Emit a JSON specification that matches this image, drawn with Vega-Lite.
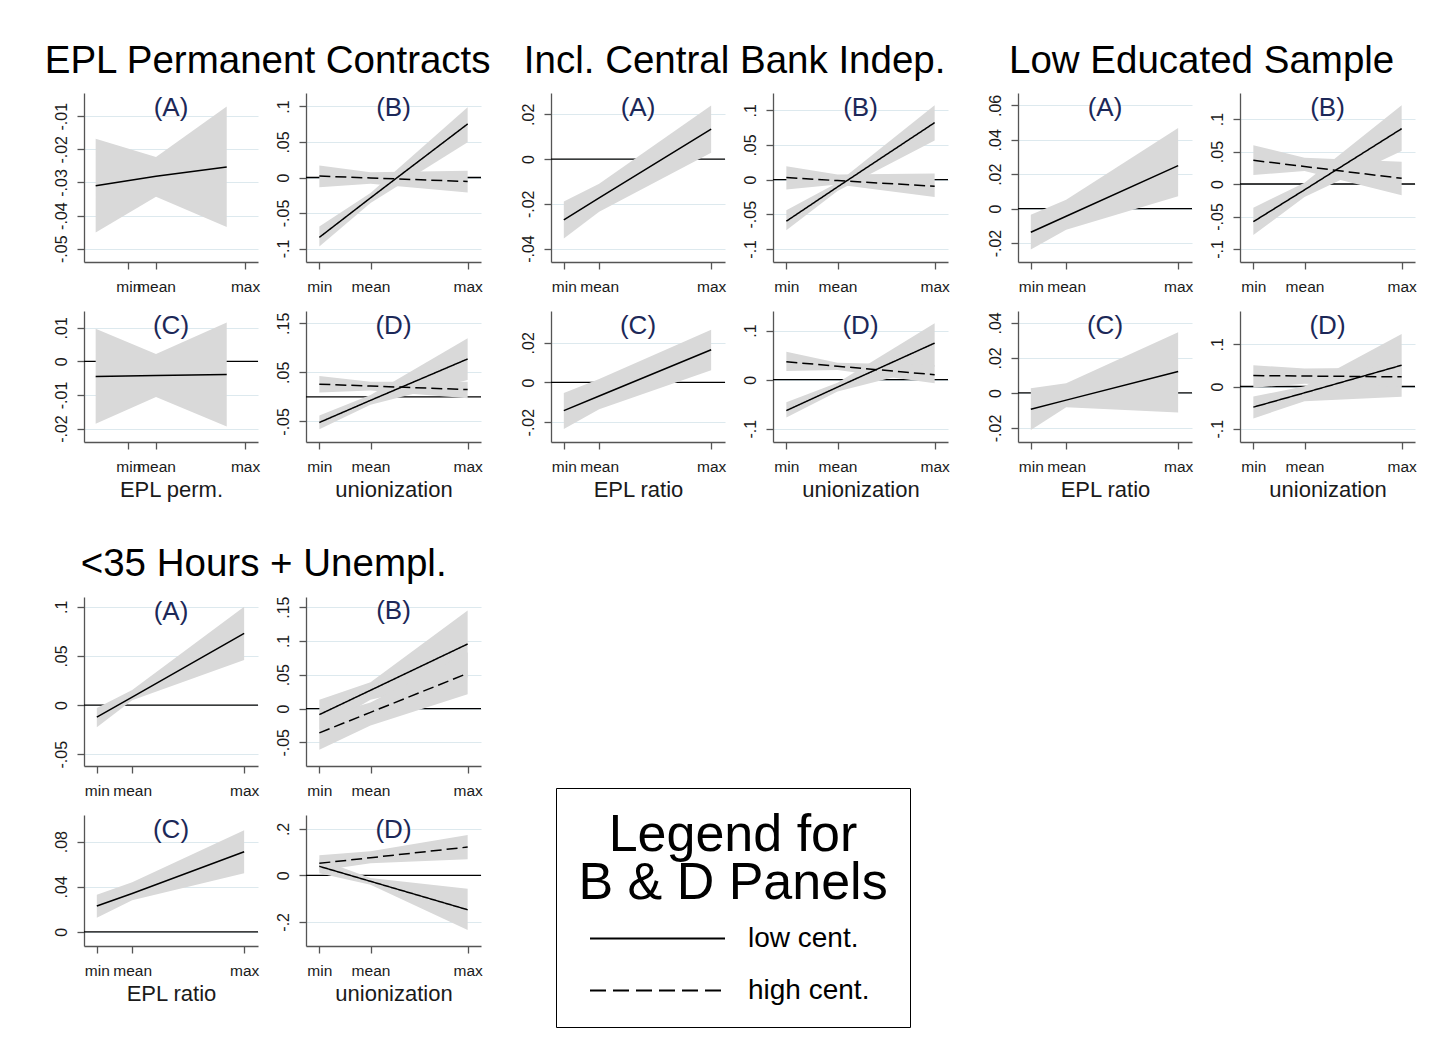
{
"$schema": "https://vega.github.io/schema/vega-lite/v6.json",
"background": "white",
"padding": {"left": 44, "top": 41, "right": 5, "bottom": 5},
"spacing": 43,
"resolve": {"scale": {"strokeDash": "independent"}, "legend": {"strokeDash": "independent"}},
"datasets": {
"est": [
{"p":"g1A","s":"low cent.","x":-0.28,"est":-0.031,"lo":-0.0451,"hi":-0.0168},
{"p":"g1A","s":"low cent.","x":0.237,"est":-0.0281,"lo":-0.0343,"hi":-0.0223},
{"p":"g1A","s":"low cent.","x":0.843,"est":-0.0253,"lo":-0.0434,"hi":-0.0071},
{"p":"g1B","s":"low cent.","x":0,"est":-0.0843,"lo":-0.097,"hi":-0.0689},
{"p":"g1B","s":"low cent.","x":0.345,"est":-0.0287,"lo":-0.036,"hi":-0.022},
{"p":"g1B","s":"low cent.","x":1,"est":0.0754,"lo":0.0497,"hi":0.0988},
{"p":"g1B","s":"high cent.","x":0,"est":0.002,"lo":-0.0136,"hi":0.0169},
{"p":"g1B","s":"high cent.","x":0.345,"est":-0.0006,"lo":-0.0089,"hi":0.0075},
{"p":"g1B","s":"high cent.","x":1,"est":-0.0056,"lo":-0.0211,"hi":0.0094},
{"p":"g1C","s":"low cent.","x":-0.28,"est":-0.0045,"lo":-0.0186,"hi":0.0097},
{"p":"g1C","s":"low cent.","x":0.237,"est":-0.0042,"lo":-0.0106,"hi":0.0022},
{"p":"g1C","s":"low cent.","x":0.843,"est":-0.0039,"lo":-0.0194,"hi":0.0116},
{"p":"g1D","s":"low cent.","x":0,"est":-0.0522,"lo":-0.0658,"hi":-0.038},
{"p":"g1D","s":"low cent.","x":0.345,"est":-0.0071,"lo":-0.016,"hi":0.004},
{"p":"g1D","s":"low cent.","x":1,"est":0.0773,"lo":0.0346,"hi":0.1193},
{"p":"g1D","s":"high cent.","x":0,"est":0.0258,"lo":0.0088,"hi":0.0427},
{"p":"g1D","s":"high cent.","x":0.345,"est":0.022,"lo":0.013,"hi":0.031},
{"p":"g1D","s":"high cent.","x":1,"est":0.0149,"lo":-0.0027,"hi":0.031},
{"p":"g2A","s":"low cent.","x":0,"est":-0.0272,"lo":-0.0355,"hi":-0.019},
{"p":"g2A","s":"low cent.","x":0.24,"est":-0.0174,"lo":-0.0236,"hi":-0.011},
{"p":"g2A","s":"low cent.","x":1,"est":0.0134,"lo":0.0028,"hi":0.0239},
{"p":"g2B","s":"low cent.","x":0,"est":-0.0601,"lo":-0.0731,"hi":-0.0442},
{"p":"g2B","s":"low cent.","x":0.345,"est":-0.0106,"lo":-0.0166,"hi":-0.0046},
{"p":"g2B","s":"low cent.","x":1,"est":0.0822,"lo":0.0563,"hi":0.1072},
{"p":"g2B","s":"high cent.","x":0,"est":0.0029,"lo":-0.0144,"hi":0.0192},
{"p":"g2B","s":"high cent.","x":0.345,"est":-0.0015,"lo":-0.007,"hi":0.0072},
{"p":"g2B","s":"high cent.","x":1,"est":-0.0096,"lo":-0.025,"hi":0.0087},
{"p":"g2C","s":"low cent.","x":0,"est":-0.0142,"lo":-0.0235,"hi":-0.0053},
{"p":"g2C","s":"low cent.","x":0.24,"est":-0.0068,"lo":-0.0135,"hi":0.0018},
{"p":"g2C","s":"low cent.","x":1,"est":0.0165,"lo":0.0062,"hi":0.0265},
{"p":"g2D","s":"low cent.","x":0,"est":-0.063,"lo":-0.0773,"hi":-0.0461},
{"p":"g2D","s":"low cent.","x":0.345,"est":-0.0151,"lo":-0.024,"hi":-0.006},
{"p":"g2D","s":"low cent.","x":1,"est":0.0746,"lo":0.0264,"hi":0.1152},
{"p":"g2D","s":"high cent.","x":0,"est":0.0366,"lo":0.0176,"hi":0.057},
{"p":"g2D","s":"high cent.","x":0.345,"est":0.0274,"lo":0.0197,"hi":0.0346},
{"p":"g2D","s":"high cent.","x":1,"est":0.0102,"lo":-0.0075,"hi":0.0298},
{"p":"g3A","s":"low cent.","x":0,"est":-0.0137,"lo":-0.0238,"hi":-0.0035},
{"p":"g3A","s":"low cent.","x":0.24,"est":-0.0044,"lo":-0.0122,"hi":0.0052},
{"p":"g3A","s":"low cent.","x":1,"est":0.025,"lo":0.0072,"hi":0.0469},
{"p":"g3B","s":"low cent.","x":0,"est":-0.058,"lo":-0.0785,"hi":-0.0364},
{"p":"g3B","s":"low cent.","x":0.345,"est":-0.009,"lo":-0.02,"hi":0.002},
{"p":"g3B","s":"low cent.","x":1,"est":0.0851,"lo":0.0508,"hi":0.121},
{"p":"g3B","s":"high cent.","x":0,"est":0.0364,"lo":0.0138,"hi":0.0595},
{"p":"g3B","s":"high cent.","x":0.345,"est":0.0269,"lo":0.02,"hi":0.0405},
{"p":"g3B","s":"high cent.","x":1,"est":0.0087,"lo":-0.0174,"hi":0.0344},
{"p":"g3C","s":"low cent.","x":0,"est":-0.0093,"lo":-0.0211,"hi":0.0027},
{"p":"g3C","s":"low cent.","x":0.24,"est":-0.0041,"lo":-0.0082,"hi":0.0055},
{"p":"g3C","s":"low cent.","x":1,"est":0.0122,"lo":-0.0112,"hi":0.0346},
{"p":"g3D","s":"low cent.","x":0,"est":-0.0489,"lo":-0.0757,"hi":-0.0237},
{"p":"g3D","s":"low cent.","x":0.345,"est":-0.0149,"lo":-0.0347,"hi":0.0008},
{"p":"g3D","s":"low cent.","x":1,"est":0.0505,"lo":-0.0244,"hi":0.1246},
{"p":"g3D","s":"high cent.","x":0,"est":0.026,"lo":-0.003,"hi":0.0505},
{"p":"g3D","s":"high cent.","x":0.345,"est":0.0249,"lo":0.0063,"hi":0.0426},
{"p":"g3D","s":"high cent.","x":1,"est":0.0229,"lo":0.0,"hi":0.045},
{"p":"g4A","s":"low cent.","x":0,"est":-0.0123,"lo":-0.0226,"hi":-0.003},
{"p":"g4A","s":"low cent.","x":0.24,"est":0.0081,"lo":0.005,"hi":0.0154},
{"p":"g4A","s":"low cent.","x":1,"est":0.0729,"lo":0.046,"hi":0.1},
{"p":"g4B","s":"low cent.","x":0,"est":-0.009,"lo":-0.031,"hi":0.013},
{"p":"g4B","s":"low cent.","x":0.345,"est":0.027,"lo":0.013,"hi":0.039},
{"p":"g4B","s":"low cent.","x":1,"est":0.0955,"lo":0.046,"hi":0.145},
{"p":"g4B","s":"high cent.","x":0,"est":-0.036,"lo":-0.061,"hi":-0.013},
{"p":"g4B","s":"high cent.","x":0.345,"est":-0.0056,"lo":-0.025,"hi":0.009},
{"p":"g4B","s":"high cent.","x":1,"est":0.052,"lo":0.021,"hi":0.083},
{"p":"g4C","s":"low cent.","x":0,"est":0.023,"lo":0.0125,"hi":0.033},
{"p":"g4C","s":"low cent.","x":0.24,"est":0.034,"lo":0.028,"hi":0.044},
{"p":"g4C","s":"low cent.","x":1,"est":0.071,"lo":0.052,"hi":0.09},
{"p":"g4D","s":"low cent.","x":0,"est":0.039,"lo":0.009,"hi":0.07},
{"p":"g4D","s":"low cent.","x":0.345,"est":-0.0255,"lo":-0.04,"hi":-0.011},
{"p":"g4D","s":"low cent.","x":1,"est":-0.148,"lo":-0.235,"hi":-0.057},
{"p":"g4D","s":"high cent.","x":0,"est":0.052,"lo":0.02,"hi":0.087},
{"p":"g4D","s":"high cent.","x":0.345,"est":0.076,"lo":0.052,"hi":0.104},
{"p":"g4D","s":"high cent.","x":1,"est":0.122,"lo":0.07,"hi":0.174}
]
},
"vconcat": [
{"hconcat": [
{"hconcat": [
 {"title": {"text": "EPL Permanent Contracts", "fontSize": 38.5, "color": "black", "anchor": "middle", "frame": "bounds", "baseline": "alphabetic", "offset": -18},
  "spacing": 16,
  "vconcat": [
   {"hconcat": [
    {"width": 174, "height": 169, "title": "(A)",
     "layer": [
      {"data": {"name": "est"}, "transform": [{"filter": "datum.p == 'g1A'"}],
       "mark": {"type": "area", "color": "#d9d9d9", "opacity": 1, "clip": true},
       "encoding": {
        "x": {"field": "x", "type": "quantitative", "title": null, "scale": {"domain": [-0.38, 1.111], "nice": false, "zero": false}, "axis": {"values": [0, 0.237, 1], "labelOverlap": false, "labelExpr": "datum.value == 0 ? 'min' : datum.value == 1 ? 'max' : 'mean'"}},
        "y": {"field": "lo", "type": "quantitative", "title": null, "scale": {"domain": [-0.054, -0.003], "nice": false, "zero": false}, "axis": {"values": [-0.05, -0.04, -0.03, -0.02, -0.01], "labelOverlap": false, "labelSeparation": -40, "labelExpr": "replace('' + datum.value, '0.', '.')"}},
        "y2": {"field": "hi"},
        "detail": {"field": "s", "type": "nominal"}}},
      {"data": {"name": "est"}, "transform": [{"filter": "datum.p == 'g1A'"}],
       "mark": {"type": "line", "color": "black", "strokeWidth": 1.5, "clip": true},
       "encoding": {
        "x": {"field": "x", "type": "quantitative", "title": null, "scale": {"domain": [-0.38, 1.111], "nice": false, "zero": false}},
        "y": {"field": "est", "type": "quantitative", "title": null, "scale": {"domain": [-0.054, -0.003], "nice": false, "zero": false}, "axis": {"values": [-0.05, -0.04, -0.03, -0.02, -0.01], "labelOverlap": false, "labelSeparation": -40, "labelExpr": "replace('' + datum.value, '0.', '.')"}}}}
     ]},
    {"width": 175, "height": 169, "title": "(B)",
     "layer": [
      {"data": {"values": [{}]}, "mark": {"type": "rule", "color": "black", "strokeWidth": 1.3},
       "encoding": {"y": {"datum": 0, "type": "quantitative", "title": null, "scale": {"domain": [-0.119, 0.119], "nice": false, "zero": false}}}},
      {"data": {"name": "est"}, "transform": [{"filter": "datum.p == 'g1B'"}],
       "mark": {"type": "area", "color": "#d9d9d9", "opacity": 1, "clip": true},
       "encoding": {
        "x": {"field": "x", "type": "quantitative", "title": null, "scale": {"domain": [-0.09, 1.09], "nice": false, "zero": false}, "axis": {"values": [0, 0.345, 1], "labelOverlap": false, "labelExpr": "datum.value == 0 ? 'min' : datum.value == 1 ? 'max' : 'mean'"}},
        "y": {"field": "lo", "type": "quantitative", "title": null, "scale": {"domain": [-0.119, 0.119], "nice": false, "zero": false}, "axis": {"values": [-0.1, -0.05, 0, 0.05, 0.1], "labelOverlap": false, "labelSeparation": -40, "labelExpr": "replace('' + datum.value, '0.', '.')"}},
        "y2": {"field": "hi"},
        "detail": {"field": "s", "type": "nominal"}}},
      {"data": {"name": "est"}, "transform": [{"filter": "datum.p == 'g1B'"}],
       "mark": {"type": "line", "color": "black", "strokeWidth": 1.5, "clip": true},
       "encoding": {
        "x": {"field": "x", "type": "quantitative", "title": null, "scale": {"domain": [-0.09, 1.09], "nice": false, "zero": false}},
        "y": {"field": "est", "type": "quantitative", "title": null, "scale": {"domain": [-0.119, 0.119], "nice": false, "zero": false}, "axis": {"values": [-0.1, -0.05, 0, 0.05, 0.1], "labelOverlap": false, "labelSeparation": -40, "labelExpr": "replace('' + datum.value, '0.', '.')"}},
        "strokeDash": {"field": "s", "type": "nominal", "scale": {"domain": ["low cent.", "high cent."], "range": [[1, 0], [11, 5]]}, "legend": null}}}
     ]}
   ], "spacing": 48, "bounds": "flush"},
   {"hconcat": [
    {"width": 174, "height": 131, "title": "(C)",
     "layer": [
      {"data": {"values": [{}]}, "mark": {"type": "rule", "color": "black", "strokeWidth": 1.3},
       "encoding": {"y": {"datum": 0, "type": "quantitative", "title": null, "scale": {"domain": [-0.024, 0.015], "nice": false, "zero": false}}}},
      {"data": {"name": "est"}, "transform": [{"filter": "datum.p == 'g1C'"}],
       "mark": {"type": "area", "color": "#d9d9d9", "opacity": 1, "clip": true},
       "encoding": {
        "x": {"field": "x", "type": "quantitative", "title": "EPL perm.", "scale": {"domain": [-0.38, 1.111], "nice": false, "zero": false}, "axis": {"values": [0, 0.237, 1], "labelOverlap": false, "labelExpr": "datum.value == 0 ? 'min' : datum.value == 1 ? 'max' : 'mean'"}},
        "y": {"field": "lo", "type": "quantitative", "title": null, "scale": {"domain": [-0.024, 0.015], "nice": false, "zero": false}, "axis": {"values": [-0.02, -0.01, 0, 0.01], "labelOverlap": false, "labelSeparation": -40, "labelExpr": "replace('' + datum.value, '0.', '.')"}},
        "y2": {"field": "hi"},
        "detail": {"field": "s", "type": "nominal"}}},
      {"data": {"name": "est"}, "transform": [{"filter": "datum.p == 'g1C'"}],
       "mark": {"type": "line", "color": "black", "strokeWidth": 1.5, "clip": true},
       "encoding": {
        "x": {"field": "x", "type": "quantitative", "title": "EPL perm.", "scale": {"domain": [-0.38, 1.111], "nice": false, "zero": false}},
        "y": {"field": "est", "type": "quantitative", "title": null, "scale": {"domain": [-0.024, 0.015], "nice": false, "zero": false}, "axis": {"values": [-0.02, -0.01, 0, 0.01], "labelOverlap": false, "labelSeparation": -40, "labelExpr": "replace('' + datum.value, '0.', '.')"}}}}
     ]},
    {"width": 175, "height": 131, "title": "(D)",
     "layer": [
      {"data": {"values": [{}]}, "mark": {"type": "rule", "color": "black", "strokeWidth": 1.3},
       "encoding": {"y": {"datum": 0, "type": "quantitative", "title": null, "scale": {"domain": [-0.092, 0.175], "nice": false, "zero": false}}}},
      {"data": {"name": "est"}, "transform": [{"filter": "datum.p == 'g1D'"}],
       "mark": {"type": "area", "color": "#d9d9d9", "opacity": 1, "clip": true},
       "encoding": {
        "x": {"field": "x", "type": "quantitative", "title": "unionization", "scale": {"domain": [-0.09, 1.09], "nice": false, "zero": false}, "axis": {"values": [0, 0.345, 1], "labelOverlap": false, "labelExpr": "datum.value == 0 ? 'min' : datum.value == 1 ? 'max' : 'mean'"}},
        "y": {"field": "lo", "type": "quantitative", "title": null, "scale": {"domain": [-0.092, 0.175], "nice": false, "zero": false}, "axis": {"values": [-0.05, 0, 0.05, 0.1, 0.15], "labelOverlap": false, "labelSeparation": -40, "labelExpr": "replace('' + datum.value, '0.', '.')"}},
        "y2": {"field": "hi"},
        "detail": {"field": "s", "type": "nominal"}}},
      {"data": {"name": "est"}, "transform": [{"filter": "datum.p == 'g1D'"}],
       "mark": {"type": "line", "color": "black", "strokeWidth": 1.5, "clip": true},
       "encoding": {
        "x": {"field": "x", "type": "quantitative", "title": "unionization", "scale": {"domain": [-0.09, 1.09], "nice": false, "zero": false}},
        "y": {"field": "est", "type": "quantitative", "title": null, "scale": {"domain": [-0.092, 0.175], "nice": false, "zero": false}, "axis": {"values": [-0.05, 0, 0.05, 0.1, 0.15], "labelOverlap": false, "labelSeparation": -40, "labelExpr": "replace('' + datum.value, '0.', '.')"}},
        "strokeDash": {"field": "s", "type": "nominal", "scale": {"domain": ["low cent.", "high cent."], "range": [[1, 0], [11, 5]]}, "legend": null}}}
     ]}
   ], "spacing": 48, "bounds": "flush"}
  ]},
 {"title": {"text": "Incl. Central Bank Indep.", "fontSize": 38.5, "color": "black", "anchor": "middle", "frame": "bounds", "baseline": "alphabetic", "offset": -18},
  "spacing": 16,
  "vconcat": [
   {"hconcat": [
    {"width": 174, "height": 169, "title": "(A)",
     "layer": [
      {"data": {"values": [{}]}, "mark": {"type": "rule", "color": "black", "strokeWidth": 1.3},
       "encoding": {"y": {"datum": 0, "type": "quantitative", "title": null, "scale": {"domain": [-0.046, 0.0295], "nice": false, "zero": false}}}},
      {"data": {"name": "est"}, "transform": [{"filter": "datum.p == 'g2A'"}],
       "mark": {"type": "area", "color": "#d9d9d9", "opacity": 1, "clip": true},
       "encoding": {
        "x": {"field": "x", "type": "quantitative", "title": null, "scale": {"domain": [-0.087, 1.094], "nice": false, "zero": false}, "axis": {"values": [0, 0.24, 1], "labelOverlap": false, "labelExpr": "datum.value == 0 ? 'min' : datum.value == 1 ? 'max' : 'mean'"}},
        "y": {"field": "lo", "type": "quantitative", "title": null, "scale": {"domain": [-0.046, 0.0295], "nice": false, "zero": false}, "axis": {"values": [-0.04, -0.02, 0, 0.02], "labelOverlap": false, "labelSeparation": -40, "labelExpr": "replace('' + datum.value, '0.', '.')"}},
        "y2": {"field": "hi"},
        "detail": {"field": "s", "type": "nominal"}}},
      {"data": {"name": "est"}, "transform": [{"filter": "datum.p == 'g2A'"}],
       "mark": {"type": "line", "color": "black", "strokeWidth": 1.5, "clip": true},
       "encoding": {
        "x": {"field": "x", "type": "quantitative", "title": null, "scale": {"domain": [-0.087, 1.094], "nice": false, "zero": false}},
        "y": {"field": "est", "type": "quantitative", "title": null, "scale": {"domain": [-0.046, 0.0295], "nice": false, "zero": false}, "axis": {"values": [-0.04, -0.02, 0, 0.02], "labelOverlap": false, "labelSeparation": -40, "labelExpr": "replace('' + datum.value, '0.', '.')"}}}}
     ]},
    {"width": 175, "height": 169, "title": "(B)",
     "layer": [
      {"data": {"values": [{}]}, "mark": {"type": "rule", "color": "black", "strokeWidth": 1.3},
       "encoding": {"y": {"datum": 0, "type": "quantitative", "title": null, "scale": {"domain": [-0.119, 0.125], "nice": false, "zero": false}}}},
      {"data": {"name": "est"}, "transform": [{"filter": "datum.p == 'g2B'"}],
       "mark": {"type": "area", "color": "#d9d9d9", "opacity": 1, "clip": true},
       "encoding": {
        "x": {"field": "x", "type": "quantitative", "title": null, "scale": {"domain": [-0.09, 1.09], "nice": false, "zero": false}, "axis": {"values": [0, 0.345, 1], "labelOverlap": false, "labelExpr": "datum.value == 0 ? 'min' : datum.value == 1 ? 'max' : 'mean'"}},
        "y": {"field": "lo", "type": "quantitative", "title": null, "scale": {"domain": [-0.119, 0.125], "nice": false, "zero": false}, "axis": {"values": [-0.1, -0.05, 0, 0.05, 0.1], "labelOverlap": false, "labelSeparation": -40, "labelExpr": "replace('' + datum.value, '0.', '.')"}},
        "y2": {"field": "hi"},
        "detail": {"field": "s", "type": "nominal"}}},
      {"data": {"name": "est"}, "transform": [{"filter": "datum.p == 'g2B'"}],
       "mark": {"type": "line", "color": "black", "strokeWidth": 1.5, "clip": true},
       "encoding": {
        "x": {"field": "x", "type": "quantitative", "title": null, "scale": {"domain": [-0.09, 1.09], "nice": false, "zero": false}},
        "y": {"field": "est", "type": "quantitative", "title": null, "scale": {"domain": [-0.119, 0.125], "nice": false, "zero": false}, "axis": {"values": [-0.1, -0.05, 0, 0.05, 0.1], "labelOverlap": false, "labelSeparation": -40, "labelExpr": "replace('' + datum.value, '0.', '.')"}},
        "strokeDash": {"field": "s", "type": "nominal", "scale": {"domain": ["low cent.", "high cent."], "range": [[1, 0], [11, 5]]}, "legend": null}}}
     ]}
   ], "spacing": 48, "bounds": "flush"},
   {"hconcat": [
    {"width": 174, "height": 131, "title": "(C)",
     "layer": [
      {"data": {"values": [{}]}, "mark": {"type": "rule", "color": "black", "strokeWidth": 1.3},
       "encoding": {"y": {"datum": 0, "type": "quantitative", "title": null, "scale": {"domain": [-0.03, 0.036], "nice": false, "zero": false}}}},
      {"data": {"name": "est"}, "transform": [{"filter": "datum.p == 'g2C'"}],
       "mark": {"type": "area", "color": "#d9d9d9", "opacity": 1, "clip": true},
       "encoding": {
        "x": {"field": "x", "type": "quantitative", "title": "EPL ratio", "scale": {"domain": [-0.087, 1.094], "nice": false, "zero": false}, "axis": {"values": [0, 0.24, 1], "labelOverlap": false, "labelExpr": "datum.value == 0 ? 'min' : datum.value == 1 ? 'max' : 'mean'"}},
        "y": {"field": "lo", "type": "quantitative", "title": null, "scale": {"domain": [-0.03, 0.036], "nice": false, "zero": false}, "axis": {"values": [-0.02, -0.01, 0, 0.01, 0.02, 0.03], "labelOverlap": false, "labelSeparation": -40, "labelExpr": "replace('' + datum.value, '0.', '.')"}},
        "y2": {"field": "hi"},
        "detail": {"field": "s", "type": "nominal"}}},
      {"data": {"name": "est"}, "transform": [{"filter": "datum.p == 'g2C'"}],
       "mark": {"type": "line", "color": "black", "strokeWidth": 1.5, "clip": true},
       "encoding": {
        "x": {"field": "x", "type": "quantitative", "title": "EPL ratio", "scale": {"domain": [-0.087, 1.094], "nice": false, "zero": false}},
        "y": {"field": "est", "type": "quantitative", "title": null, "scale": {"domain": [-0.03, 0.036], "nice": false, "zero": false}, "axis": {"values": [-0.02, -0.01, 0, 0.01, 0.02, 0.03], "labelOverlap": false, "labelSeparation": -40, "labelExpr": "replace('' + datum.value, '0.', '.')"}}}}
     ]},
    {"width": 175, "height": 131, "title": "(D)",
     "layer": [
      {"data": {"values": [{}]}, "mark": {"type": "rule", "color": "black", "strokeWidth": 1.3},
       "encoding": {"y": {"datum": 0, "type": "quantitative", "title": null, "scale": {"domain": [-0.127, 0.14], "nice": false, "zero": false}}}},
      {"data": {"name": "est"}, "transform": [{"filter": "datum.p == 'g2D'"}],
       "mark": {"type": "area", "color": "#d9d9d9", "opacity": 1, "clip": true},
       "encoding": {
        "x": {"field": "x", "type": "quantitative", "title": "unionization", "scale": {"domain": [-0.09, 1.09], "nice": false, "zero": false}, "axis": {"values": [0, 0.345, 1], "labelOverlap": false, "labelExpr": "datum.value == 0 ? 'min' : datum.value == 1 ? 'max' : 'mean'"}},
        "y": {"field": "lo", "type": "quantitative", "title": null, "scale": {"domain": [-0.127, 0.14], "nice": false, "zero": false}, "axis": {"values": [-0.1, -0.05, 0, 0.05, 0.1], "labelOverlap": false, "labelSeparation": -40, "labelExpr": "replace('' + datum.value, '0.', '.')"}},
        "y2": {"field": "hi"},
        "detail": {"field": "s", "type": "nominal"}}},
      {"data": {"name": "est"}, "transform": [{"filter": "datum.p == 'g2D'"}],
       "mark": {"type": "line", "color": "black", "strokeWidth": 1.5, "clip": true},
       "encoding": {
        "x": {"field": "x", "type": "quantitative", "title": "unionization", "scale": {"domain": [-0.09, 1.09], "nice": false, "zero": false}},
        "y": {"field": "est", "type": "quantitative", "title": null, "scale": {"domain": [-0.127, 0.14], "nice": false, "zero": false}, "axis": {"values": [-0.1, -0.05, 0, 0.05, 0.1], "labelOverlap": false, "labelSeparation": -40, "labelExpr": "replace('' + datum.value, '0.', '.')"}},
        "strokeDash": {"field": "s", "type": "nominal", "scale": {"domain": ["low cent.", "high cent."], "range": [[1, 0], [11, 5]]}, "legend": null}}}
     ]}
   ], "spacing": 48, "bounds": "flush"}
  ]}
], "spacing": 27},
 {"title": {"text": "Low Educated Sample", "fontSize": 38.5, "color": "black", "anchor": "middle", "frame": "bounds", "baseline": "alphabetic", "offset": -18},
  "spacing": 16,
  "vconcat": [
   {"hconcat": [
    {"width": 174, "height": 169, "title": "(A)",
     "layer": [
      {"data": {"values": [{}]}, "mark": {"type": "rule", "color": "black", "strokeWidth": 1.3},
       "encoding": {"y": {"datum": 0, "type": "quantitative", "title": null, "scale": {"domain": [-0.031, 0.0672], "nice": false, "zero": false}}}},
      {"data": {"name": "est"}, "transform": [{"filter": "datum.p == 'g3A'"}],
       "mark": {"type": "area", "color": "#d9d9d9", "opacity": 1, "clip": true},
       "encoding": {
        "x": {"field": "x", "type": "quantitative", "title": null, "scale": {"domain": [-0.087, 1.094], "nice": false, "zero": false}, "axis": {"values": [0, 0.24, 1], "labelOverlap": false, "labelExpr": "datum.value == 0 ? 'min' : datum.value == 1 ? 'max' : 'mean'"}},
        "y": {"field": "lo", "type": "quantitative", "title": null, "scale": {"domain": [-0.031, 0.0672], "nice": false, "zero": false}, "axis": {"values": [-0.02, 0, 0.02, 0.04, 0.06], "labelOverlap": false, "labelSeparation": -40, "labelExpr": "replace('' + datum.value, '0.', '.')"}},
        "y2": {"field": "hi"},
        "detail": {"field": "s", "type": "nominal"}}},
      {"data": {"name": "est"}, "transform": [{"filter": "datum.p == 'g3A'"}],
       "mark": {"type": "line", "color": "black", "strokeWidth": 1.5, "clip": true},
       "encoding": {
        "x": {"field": "x", "type": "quantitative", "title": null, "scale": {"domain": [-0.087, 1.094], "nice": false, "zero": false}},
        "y": {"field": "est", "type": "quantitative", "title": null, "scale": {"domain": [-0.031, 0.0672], "nice": false, "zero": false}, "axis": {"values": [-0.02, 0, 0.02, 0.04, 0.06], "labelOverlap": false, "labelSeparation": -40, "labelExpr": "replace('' + datum.value, '0.', '.')"}}}}
     ]},
    {"width": 175, "height": 169, "title": "(B)",
     "layer": [
      {"data": {"values": [{}]}, "mark": {"type": "rule", "color": "black", "strokeWidth": 1.3},
       "encoding": {"y": {"datum": 0, "type": "quantitative", "title": null, "scale": {"domain": [-0.12, 0.14], "nice": false, "zero": false}}}},
      {"data": {"name": "est"}, "transform": [{"filter": "datum.p == 'g3B'"}],
       "mark": {"type": "area", "color": "#d9d9d9", "opacity": 1, "clip": true},
       "encoding": {
        "x": {"field": "x", "type": "quantitative", "title": null, "scale": {"domain": [-0.09, 1.09], "nice": false, "zero": false}, "axis": {"values": [0, 0.345, 1], "labelOverlap": false, "labelExpr": "datum.value == 0 ? 'min' : datum.value == 1 ? 'max' : 'mean'"}},
        "y": {"field": "lo", "type": "quantitative", "title": null, "scale": {"domain": [-0.12, 0.14], "nice": false, "zero": false}, "axis": {"values": [-0.1, -0.05, 0, 0.05, 0.1], "labelOverlap": false, "labelSeparation": -40, "labelExpr": "replace('' + datum.value, '0.', '.')"}},
        "y2": {"field": "hi"},
        "detail": {"field": "s", "type": "nominal"}}},
      {"data": {"name": "est"}, "transform": [{"filter": "datum.p == 'g3B'"}],
       "mark": {"type": "line", "color": "black", "strokeWidth": 1.5, "clip": true},
       "encoding": {
        "x": {"field": "x", "type": "quantitative", "title": null, "scale": {"domain": [-0.09, 1.09], "nice": false, "zero": false}},
        "y": {"field": "est", "type": "quantitative", "title": null, "scale": {"domain": [-0.12, 0.14], "nice": false, "zero": false}, "axis": {"values": [-0.1, -0.05, 0, 0.05, 0.1], "labelOverlap": false, "labelSeparation": -40, "labelExpr": "replace('' + datum.value, '0.', '.')"}},
        "strokeDash": {"field": "s", "type": "nominal", "scale": {"domain": ["low cent.", "high cent."], "range": [[1, 0], [11, 5]]}, "legend": null}}}
     ]}
   ], "spacing": 48, "bounds": "flush"},
   {"hconcat": [
    {"width": 174, "height": 131, "title": "(C)",
     "layer": [
      {"data": {"values": [{}]}, "mark": {"type": "rule", "color": "black", "strokeWidth": 1.3},
       "encoding": {"y": {"datum": 0, "type": "quantitative", "title": null, "scale": {"domain": [-0.028, 0.0468], "nice": false, "zero": false}}}},
      {"data": {"name": "est"}, "transform": [{"filter": "datum.p == 'g3C'"}],
       "mark": {"type": "area", "color": "#d9d9d9", "opacity": 1, "clip": true},
       "encoding": {
        "x": {"field": "x", "type": "quantitative", "title": "EPL ratio", "scale": {"domain": [-0.087, 1.094], "nice": false, "zero": false}, "axis": {"values": [0, 0.24, 1], "labelOverlap": false, "labelExpr": "datum.value == 0 ? 'min' : datum.value == 1 ? 'max' : 'mean'"}},
        "y": {"field": "lo", "type": "quantitative", "title": null, "scale": {"domain": [-0.028, 0.0468], "nice": false, "zero": false}, "axis": {"values": [-0.02, 0, 0.02, 0.04], "labelOverlap": false, "labelSeparation": -40, "labelExpr": "replace('' + datum.value, '0.', '.')"}},
        "y2": {"field": "hi"},
        "detail": {"field": "s", "type": "nominal"}}},
      {"data": {"name": "est"}, "transform": [{"filter": "datum.p == 'g3C'"}],
       "mark": {"type": "line", "color": "black", "strokeWidth": 1.5, "clip": true},
       "encoding": {
        "x": {"field": "x", "type": "quantitative", "title": "EPL ratio", "scale": {"domain": [-0.087, 1.094], "nice": false, "zero": false}},
        "y": {"field": "est", "type": "quantitative", "title": null, "scale": {"domain": [-0.028, 0.0468], "nice": false, "zero": false}, "axis": {"values": [-0.02, 0, 0.02, 0.04], "labelOverlap": false, "labelSeparation": -40, "labelExpr": "replace('' + datum.value, '0.', '.')"}}}}
     ]},
    {"width": 175, "height": 131, "title": "(D)",
     "layer": [
      {"data": {"values": [{}]}, "mark": {"type": "rule", "color": "black", "strokeWidth": 1.3},
       "encoding": {"y": {"datum": 0, "type": "quantitative", "title": null, "scale": {"domain": [-0.1315, 0.179], "nice": false, "zero": false}}}},
      {"data": {"name": "est"}, "transform": [{"filter": "datum.p == 'g3D'"}],
       "mark": {"type": "area", "color": "#d9d9d9", "opacity": 1, "clip": true},
       "encoding": {
        "x": {"field": "x", "type": "quantitative", "title": "unionization", "scale": {"domain": [-0.09, 1.09], "nice": false, "zero": false}, "axis": {"values": [0, 0.345, 1], "labelOverlap": false, "labelExpr": "datum.value == 0 ? 'min' : datum.value == 1 ? 'max' : 'mean'"}},
        "y": {"field": "lo", "type": "quantitative", "title": null, "scale": {"domain": [-0.1315, 0.179], "nice": false, "zero": false}, "axis": {"values": [-0.1, -0.05, 0, 0.05, 0.1, 0.15], "labelOverlap": false, "labelSeparation": -40, "labelExpr": "replace('' + datum.value, '0.', '.')"}},
        "y2": {"field": "hi"},
        "detail": {"field": "s", "type": "nominal"}}},
      {"data": {"name": "est"}, "transform": [{"filter": "datum.p == 'g3D'"}],
       "mark": {"type": "line", "color": "black", "strokeWidth": 1.5, "clip": true},
       "encoding": {
        "x": {"field": "x", "type": "quantitative", "title": "unionization", "scale": {"domain": [-0.09, 1.09], "nice": false, "zero": false}},
        "y": {"field": "est", "type": "quantitative", "title": null, "scale": {"domain": [-0.1315, 0.179], "nice": false, "zero": false}, "axis": {"values": [-0.1, -0.05, 0, 0.05, 0.1, 0.15], "labelOverlap": false, "labelSeparation": -40, "labelExpr": "replace('' + datum.value, '0.', '.')"}},
        "strokeDash": {"field": "s", "type": "nominal", "scale": {"domain": ["low cent.", "high cent."], "range": [[1, 0], [11, 5]]}, "legend": null}}}
     ]}
   ], "spacing": 48, "bounds": "flush"}
  ]}
], "spacing": 36},
{"hconcat": [
 {"title": {"text": "<35 Hours + Unempl.", "fontSize": 38.5, "color": "black", "anchor": "middle", "frame": "bounds", "baseline": "alphabetic", "offset": -18},
  "spacing": 16,
  "vconcat": [
   {"hconcat": [
    {"width": 174, "height": 169, "title": "(A)",
     "layer": [
      {"data": {"values": [{}]}, "mark": {"type": "rule", "color": "black", "strokeWidth": 1.3},
       "encoding": {"y": {"datum": 0, "type": "quantitative", "title": null, "scale": {"domain": [-0.062, 0.11], "nice": false, "zero": false}}}},
      {"data": {"name": "est"}, "transform": [{"filter": "datum.p == 'g4A'"}],
       "mark": {"type": "area", "color": "#d9d9d9", "opacity": 1, "clip": true},
       "encoding": {
        "x": {"field": "x", "type": "quantitative", "title": null, "scale": {"domain": [-0.087, 1.094], "nice": false, "zero": false}, "axis": {"values": [0, 0.24, 1], "labelOverlap": false, "labelExpr": "datum.value == 0 ? 'min' : datum.value == 1 ? 'max' : 'mean'"}},
        "y": {"field": "lo", "type": "quantitative", "title": null, "scale": {"domain": [-0.062, 0.11], "nice": false, "zero": false}, "axis": {"values": [-0.05, 0, 0.05, 0.1], "labelOverlap": false, "labelSeparation": -40, "labelExpr": "replace('' + datum.value, '0.', '.')", "title": " ", "titleFontSize": 1, "titlePadding": 7}},
        "y2": {"field": "hi"},
        "detail": {"field": "s", "type": "nominal"}}},
      {"data": {"name": "est"}, "transform": [{"filter": "datum.p == 'g4A'"}],
       "mark": {"type": "line", "color": "black", "strokeWidth": 1.5, "clip": true},
       "encoding": {
        "x": {"field": "x", "type": "quantitative", "title": null, "scale": {"domain": [-0.087, 1.094], "nice": false, "zero": false}},
        "y": {"field": "est", "type": "quantitative", "title": null, "scale": {"domain": [-0.062, 0.11], "nice": false, "zero": false}, "axis": {"values": [-0.05, 0, 0.05, 0.1], "labelOverlap": false, "labelSeparation": -40, "labelExpr": "replace('' + datum.value, '0.', '.')", "title": " ", "titleFontSize": 1, "titlePadding": 7}}}}
     ]},
    {"width": 175, "height": 169, "title": "(B)",
     "layer": [
      {"data": {"values": [{}]}, "mark": {"type": "rule", "color": "black", "strokeWidth": 1.3},
       "encoding": {"y": {"datum": 0, "type": "quantitative", "title": null, "scale": {"domain": [-0.085, 0.165], "nice": false, "zero": false}}}},
      {"data": {"name": "est"}, "transform": [{"filter": "datum.p == 'g4B'"}],
       "mark": {"type": "area", "color": "#d9d9d9", "opacity": 1, "clip": true},
       "encoding": {
        "x": {"field": "x", "type": "quantitative", "title": null, "scale": {"domain": [-0.09, 1.09], "nice": false, "zero": false}, "axis": {"values": [0, 0.345, 1], "labelOverlap": false, "labelExpr": "datum.value == 0 ? 'min' : datum.value == 1 ? 'max' : 'mean'"}},
        "y": {"field": "lo", "type": "quantitative", "title": null, "scale": {"domain": [-0.085, 0.165], "nice": false, "zero": false}, "axis": {"values": [-0.05, 0, 0.05, 0.1, 0.15], "labelOverlap": false, "labelSeparation": -40, "labelExpr": "replace('' + datum.value, '0.', '.')"}},
        "y2": {"field": "hi"},
        "detail": {"field": "s", "type": "nominal"}}},
      {"data": {"name": "est"}, "transform": [{"filter": "datum.p == 'g4B'"}],
       "mark": {"type": "line", "color": "black", "strokeWidth": 1.5, "clip": true},
       "encoding": {
        "x": {"field": "x", "type": "quantitative", "title": null, "scale": {"domain": [-0.09, 1.09], "nice": false, "zero": false}},
        "y": {"field": "est", "type": "quantitative", "title": null, "scale": {"domain": [-0.085, 0.165], "nice": false, "zero": false}, "axis": {"values": [-0.05, 0, 0.05, 0.1, 0.15], "labelOverlap": false, "labelSeparation": -40, "labelExpr": "replace('' + datum.value, '0.', '.')"}},
        "strokeDash": {"field": "s", "type": "nominal", "scale": {"domain": ["low cent.", "high cent."], "range": [[1, 0], [11, 5]]}, "legend": null}}}
     ]}
   ], "spacing": 48, "bounds": "flush"},
   {"hconcat": [
    {"width": 174, "height": 131, "title": "(C)",
     "layer": [
      {"data": {"values": [{}]}, "mark": {"type": "rule", "color": "black", "strokeWidth": 1.3},
       "encoding": {"y": {"datum": 0, "type": "quantitative", "title": null, "scale": {"domain": [-0.0125, 0.1036], "nice": false, "zero": false}}}},
      {"data": {"name": "est"}, "transform": [{"filter": "datum.p == 'g4C'"}],
       "mark": {"type": "area", "color": "#d9d9d9", "opacity": 1, "clip": true},
       "encoding": {
        "x": {"field": "x", "type": "quantitative", "title": "EPL ratio", "scale": {"domain": [-0.087, 1.094], "nice": false, "zero": false}, "axis": {"values": [0, 0.24, 1], "labelOverlap": false, "labelExpr": "datum.value == 0 ? 'min' : datum.value == 1 ? 'max' : 'mean'"}},
        "y": {"field": "lo", "type": "quantitative", "title": null, "scale": {"domain": [-0.0125, 0.1036], "nice": false, "zero": false}, "axis": {"values": [0, 0.02, 0.04, 0.06, 0.08, 0.1], "labelOverlap": false, "labelSeparation": -40, "labelExpr": "replace('' + datum.value, '0.', '.')", "title": " ", "titleFontSize": 1, "titlePadding": 7}},
        "y2": {"field": "hi"},
        "detail": {"field": "s", "type": "nominal"}}},
      {"data": {"name": "est"}, "transform": [{"filter": "datum.p == 'g4C'"}],
       "mark": {"type": "line", "color": "black", "strokeWidth": 1.5, "clip": true},
       "encoding": {
        "x": {"field": "x", "type": "quantitative", "title": "EPL ratio", "scale": {"domain": [-0.087, 1.094], "nice": false, "zero": false}},
        "y": {"field": "est", "type": "quantitative", "title": null, "scale": {"domain": [-0.0125, 0.1036], "nice": false, "zero": false}, "axis": {"values": [0, 0.02, 0.04, 0.06, 0.08, 0.1], "labelOverlap": false, "labelSeparation": -40, "labelExpr": "replace('' + datum.value, '0.', '.')", "title": " ", "titleFontSize": 1, "titlePadding": 7}}}}
     ]},
    {"width": 175, "height": 131, "title": "(D)",
     "layer": [
      {"data": {"values": [{}]}, "mark": {"type": "rule", "color": "black", "strokeWidth": 1.3},
       "encoding": {"y": {"datum": 0, "type": "quantitative", "title": null, "scale": {"domain": [-0.304, 0.26], "nice": false, "zero": false}}}},
      {"data": {"name": "est"}, "transform": [{"filter": "datum.p == 'g4D'"}],
       "mark": {"type": "area", "color": "#d9d9d9", "opacity": 1, "clip": true},
       "encoding": {
        "x": {"field": "x", "type": "quantitative", "title": "unionization", "scale": {"domain": [-0.09, 1.09], "nice": false, "zero": false}, "axis": {"values": [0, 0.345, 1], "labelOverlap": false, "labelExpr": "datum.value == 0 ? 'min' : datum.value == 1 ? 'max' : 'mean'"}},
        "y": {"field": "lo", "type": "quantitative", "title": null, "scale": {"domain": [-0.304, 0.26], "nice": false, "zero": false}, "axis": {"values": [-0.2, -0.1, 0, 0.1, 0.2], "labelOverlap": false, "labelSeparation": -40, "labelExpr": "replace('' + datum.value, '0.', '.')"}},
        "y2": {"field": "hi"},
        "detail": {"field": "s", "type": "nominal"}}},
      {"data": {"name": "est"}, "transform": [{"filter": "datum.p == 'g4D'"}],
       "mark": {"type": "line", "color": "black", "strokeWidth": 1.5, "clip": true},
       "encoding": {
        "x": {"field": "x", "type": "quantitative", "title": "unionization", "scale": {"domain": [-0.09, 1.09], "nice": false, "zero": false}},
        "y": {"field": "est", "type": "quantitative", "title": null, "scale": {"domain": [-0.304, 0.26], "nice": false, "zero": false}, "axis": {"values": [-0.2, -0.1, 0, 0.1, 0.2], "labelOverlap": false, "labelSeparation": -40, "labelExpr": "replace('' + datum.value, '0.', '.')"}},
        "strokeDash": {"field": "s", "type": "nominal", "scale": {"domain": ["low cent.", "high cent."], "range": [[1, 0], [11, 5]]}, "legend": null}}}
     ]}
   ], "spacing": 48, "bounds": "flush"}
  ]},
 {"width": 354, "height": 430,
  "data": {"values": [{"s": "low cent."}, {"s": "high cent."}]},
  "mark": {"type": "rule", "color": "black", "clip": true},
  "encoding": {
   "y": {"datum": -10, "type": "quantitative", "scale": {"domain": [0, 1]}, "axis": null},
   "strokeDash": {"field": "s", "type": "nominal",
    "scale": {"domain": ["low cent.", "high cent."], "range": [[1, 0], [16, 7]]},
    "legend": {
     "title": ["Legend for", "B & D Panels"],
     "orient": "bottom-left", "offset": 0, "padding": 22,
     "strokeColor": "black",
     "titleFontSize": 52, "titleFontWeight": "normal", "titleColor": "black", "titleAlign": "center", "titleAnchor": "middle", "titleLineHeight": 48, "titlePadding": 14, "titleLimit": 500,
     "labelFontSize": 28, "labelColor": "black", "labelOffset": 76, "labelLimit": 300,
     "symbolType": "M-5,0H5", "symbolSize": 729, "symbolStrokeWidth": 2, "symbolStrokeColor": "black", "symbolFillColor": "transparent", "symbolOffset": 47,
     "rowPadding": 23
    }}
  }}
], "spacing": 72, "resolve": {"scale": {"strokeDash": "independent"}, "legend": {"strokeDash": "independent"}}}
],
"config": {
 "font": "Liberation Sans",
 "view": {"stroke": null},
 "axis": {"labelFont": "Liberation Sans", "labelFontSize": 15.5, "labelColor": "#1a1a1a", "domainColor": "#555555", "domainWidth": 1.3, "tickColor": "#555555", "tickWidth": 1.3, "tickSize": 7, "labelPadding": 8, "gridColor": "#dde9ee", "gridWidth": 1.2, "titleFont": "Liberation Sans", "titleFontSize": 22, "titleFontWeight": "normal", "titleColor": "#1a1a1a", "titlePadding": 5, "labelOverlap": false, "labelFlush": false, "labelBound": false},
 "axisX": {"grid": false, "labelPadding": 10},
 "axisY": {"grid": true, "labelAngle": 270, "labelFontSize": 16, "labelSeparation": -40},
 "title": {"font": "Liberation Sans", "fontWeight": "normal", "fontSize": 26, "color": "#1c2858", "baseline": "bottom", "offset": -28, "anchor": "middle", "frame": "group"},
 "legend": {"labelFont": "Liberation Sans", "titleFont": "Liberation Sans"}
}
}
